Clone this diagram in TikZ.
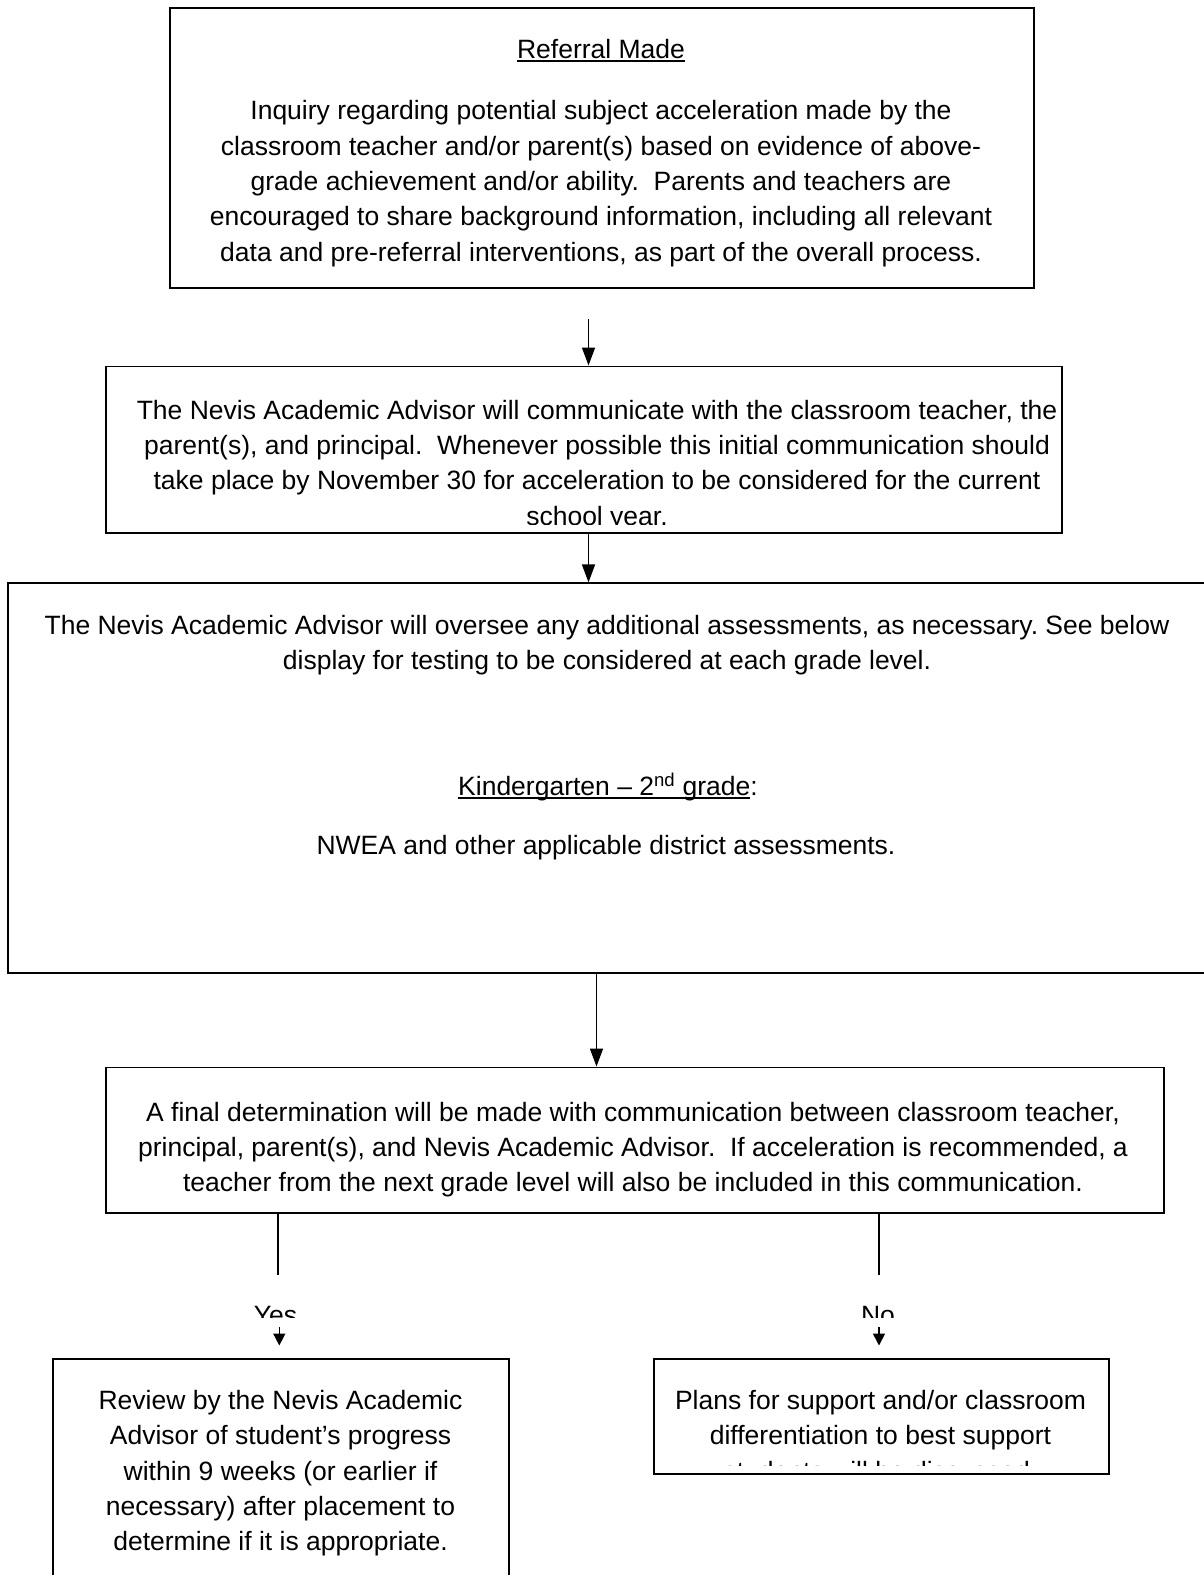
\documentclass[tikz,border=0pt]{standalone}
\usepackage{fontspec}
\setmainfont{Liberation Sans}
\usetikzlibrary{arrows.meta}
\newcommand\myul[1]{\setbox0\hbox{#1}\rlap{\rule[-3.5pt]{\wd0}{1.8pt}}\box0}
\begin{document}
\frenchspacing
\begin{tikzpicture}[x=1pt,y=-1pt,
 box/.style={draw, line width=1.8pt, rectangle, inner sep=0pt, anchor=north west},
 txt/.style={align=center, inner sep=0pt, anchor=north, font=\fontsize{26.5}{35.3}\selectfont},
 arr/.style={line width=1.6pt, -{Triangle[length=18pt,width=13pt]}},
 sarr/.style={line width=1.6pt, -{Triangle[length=12pt,width=12pt]}},
 ln/.style={line width=1.6pt}]
\useasboundingbox (0,0) rectangle (1204,1575);
\fill[white] (0,0) rectangle (1204,1575);
% boxes
\node[box, minimum width=864pt, minimum height=280pt] (b1) at (169,7) {};
\node[box, minimum width=956pt, minimum height=166.5pt] (b2) at (105.4,365.5) {};
\node[box, minimum width=1210pt, minimum height=389.6pt] (b3) at (7,582.4) {};
\node[box, minimum width=1057.5pt, minimum height=145.5pt] (b4) at (105.4,1066.5) {};
\node[box, minimum width=456pt, minimum height=300pt] (b5a) at (52.2,1357.7) {};
\node[box, minimum width=455pt, minimum height=115.6pt] (b5b) at (652.7,1357.7) {};
% texts
\node[txt] (t1a) at (601,39) {\myul{Referral Made}};
\node[txt] (t1b) at (601,100.5) {Inquiry regarding potential subject acceleration made by the\\classroom teacher and/or parent(s) based on evidence of above-\\grade achievement and/or ability.\ \ Parents and teachers are\\encouraged to share background information, including all relevant\\data and pre-referral interventions, as part of the overall process.};
\begin{scope}
\clip (105,365) rectangle (1062,524);
\node[txt] (t2) at (597,399.7) {The Nevis Academic Advisor will communicate with the classroom teacher, the\\parent(s), and principal.\ \ Whenever possible this initial communication should\\take place by November 30 for acceleration to be considered for the current\\school year.};
\end{scope}
\node[txt] (t3a) at (607,614.6) {The Nevis Academic Advisor will oversee any additional assessments, as necessary. See below\\display for testing to be considered at each grade level.};
\node[txt] (t3b) at (608,773) {\myul{Kindergarten -- 2\textsuperscript{nd} grade}:};
\node[txt] (t3c) at (606,835.5) {NWEA and other applicable district assessments.};
\node[txt] (t4) at (633,1101.6) {A final determination will be made with communication between classroom teacher,\\principal, parent(s), and Nevis Academic Advisor.\ \ If acceleration is recommended, a\\teacher from the next grade level will also be included in this communication.};
\begin{scope}
\clip (200,1290) rectangle (950,1317);
\node[txt] (yes) at (275.5,1306.5) {Yes};
\node[txt] (no) at (878,1306.5) {No};
\end{scope}
\node[txt] (t5a) at (280.5,1390) {Review by the Nevis Academic\\Advisor of student’s progress\\within 9 weeks (or earlier if\\necessary) after placement to\\determine if it is appropriate.};
\begin{scope}
\clip (652,1357) rectangle (1108,1465);
\node[txt] (t5b) at (880.5,1390) {Plans for support and/or classroom\\differentiation to best support\\students will be discussed.};
\end{scope}
% connectors
\coordinate (a1) at (588.5,319);
\draw[arr] (a1) -- (a1 |- b2.north);
\coordinate (a2) at (588.5,0);
\draw[arr] (a2 |- b2.south) -- (a2 |- b3.north);
\coordinate (a3) at (596.5,0);
\draw[arr] (a3 |- b3.south) -- (a3 |- b4.north);
\coordinate (l1) at (278.2,1275);
\coordinate (l2) at (878.7,1275);
\draw[ln] (l1 |- b4.south) -- (l1);
\draw[ln] (l2 |- b4.south) -- (l2);
\coordinate (y1) at (279.3,1327);
\coordinate (y2) at (279.3,1345.5);
\coordinate (n1) at (879,1327);
\coordinate (n2) at (879,1345.5);
\draw[sarr] (y1) -- (y2);
\draw[sarr] (n1) -- (n2);
\end{tikzpicture}
\end{document}
